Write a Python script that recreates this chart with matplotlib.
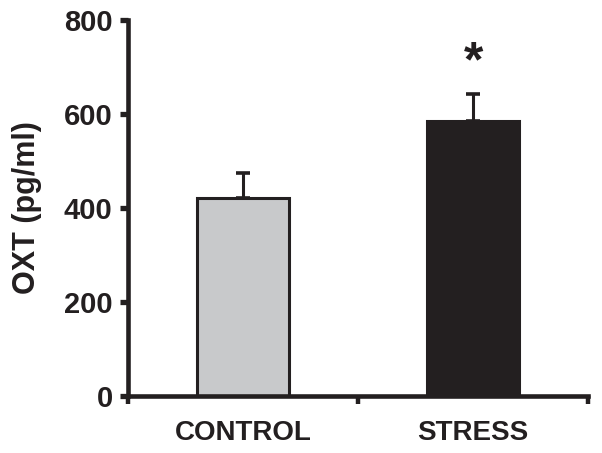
import numpy as np
import matplotlib
matplotlib.use("Agg")
from matplotlib import pyplot as plt

# donnees
groups = ["CONTROL", "STRESS"]
oxt_mean = [422, 586]
oxt_sem = [53, 56]
bar_colors = ["#c8c9cb", "#231f20"]

plt.rcParams['font.family'] = ['Liberation Sans', 'DejaVu Sans']
plt.rcParams['font.weight'] = 'bold'

fig = plt.figure(figsize=(6.02, 4.53), dpi=100)
ax = fig.add_axes([0.2126, 0.1258, 0.7644, 0.8300])

x = np.arange(len(groups)) + 0.5
ax.bar(x, oxt_mean, width=0.4, color=bar_colors, edgecolor="#231f20", linewidth=2.2, zorder=2)
ax.errorbar(x, oxt_mean, yerr=[[0, 0], oxt_sem], fmt="none", ecolor="#231f20",
            elinewidth=2.2, capsize=4.8, capthick=2.6, zorder=1)

# asterisque sur STRESS
ax.text(x[1], oxt_mean[1] + oxt_sem[1] + 65, "*", ha="center", va="center",
        fontsize=36, fontweight="bold", color="#231f20")

ax.set_xlim(0, 2)
ax.set_ylim(0, 800)
ax.set_yticks([0, 200, 400, 600, 800])
ax.set_xticks([0, 1, 2])
ax.set_xticklabels([])
ax.set_xticks(x, minor=True)
ax.set_xticklabels(groups, minor=True, fontsize=20, fontweight="bold", color="#231f20")
ax.tick_params(axis="x", which="minor", length=0, pad=17)
ax.tick_params(axis="x", which="major", length=6, width=3.2, direction="out", color="#231f20")
ax.tick_params(axis="y", length=6, width=3.8, labelsize=21, color="#231f20", labelcolor="#231f20", pad=5)

for s in ["top", "right"]:
    ax.spines[s].set_visible(False)
for s in ["left", "bottom"]:
    ax.spines[s].set_linewidth(3.3)
    ax.spines[s].set_color("#231f20")

ax.set_ylabel("OXT (pg/ml)", fontsize=22, fontweight="bold", color="#231f20", labelpad=16)

fig.savefig("out.png", dpi=100)
